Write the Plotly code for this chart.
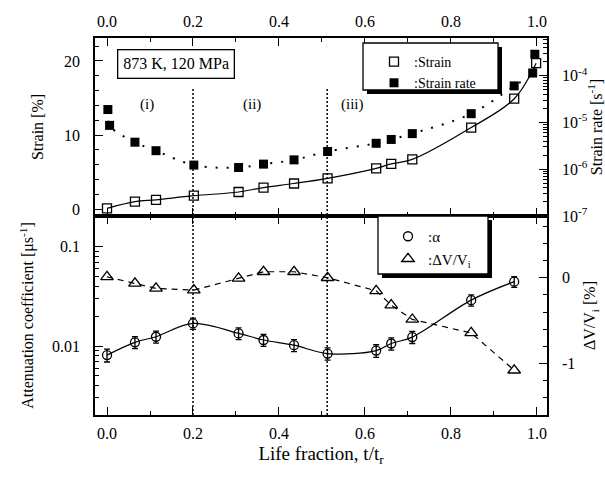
import plotly.graph_objects as go

# ---------------- data ----------------
life_strain = [0.0, 0.065, 0.114, 0.202, 0.306, 0.364, 0.435, 0.513, 0.626, 0.661, 0.71, 0.847, 0.947, 0.998]
strain = [0.1, 1.0, 1.25, 1.8, 2.3, 2.9, 3.45, 4.15, 5.5, 6.1, 6.7, 11.0, 14.9, 19.7]

life_rate = [0.002, 0.006, 0.065, 0.114, 0.202, 0.306, 0.364, 0.435, 0.513, 0.626, 0.661, 0.71, 0.847, 0.947, 0.99, 0.995]
strain_rate = [1.9e-5, 8.7e-6, 3.8e-6, 2.5e-6, 1.23e-6, 1.09e-6, 1.29e-6, 1.59e-6, 2.4e-6, 3.6e-6,
               4.35e-6, 5.8e-6, 1.55e-5, 6.1e-5, 1.15e-4, 2.9e-4]

life_alpha = [0.0, 0.065, 0.114, 0.2, 0.306, 0.364, 0.435, 0.513, 0.626, 0.661, 0.71, 0.847, 0.947]
alpha = [0.0081, 0.0109, 0.0124, 0.0169, 0.0134, 0.0115, 0.0102, 0.0084, 0.0090, 0.0106, 0.0123, 0.029, 0.0445]
alpha_err = [0.0012, 0.0015, 0.0017, 0.0022, 0.0018, 0.0016, 0.0014, 0.0012, 0.0013, 0.0015, 0.0017, 0.0038, 0.0055]

life_dv = [0.0, 0.065, 0.114, 0.202, 0.306, 0.364, 0.435, 0.513, 0.626, 0.661, 0.71, 0.847, 0.947]
dv_v = [0.01, -0.065, -0.124, -0.144, -0.007, 0.07, 0.07, 0.0, -0.152, -0.319, -0.486, -0.643, -1.078]

x_ticks = [0.0, 0.2, 0.4, 0.6, 0.8, 1.0]
x_ticklabels = ["0.0", "0.2", "0.4", "0.6", "0.8", "1.0"]
rate_ticks = [1e-7, 1e-6, 1e-5, 1e-4]
rate_ticklabels = ["10<sup>-7</sup>", "10<sup>-6</sup>", "10<sup>-5</sup>", "10<sup>-4</sup>"]
alpha_ticks = [0.01, 0.1]
alpha_ticklabels = ["0.01", "0.1"]
dv_ticks = [0, -1]
dv_ticklabels = ["0", "-1"]
stage_labels = ["(i)", "(ii)", "(iii)"]
stage_x = [0.093, 0.337, 0.57]
stage_boundaries = [0.2, 0.512]

FONT = "Liberation Serif"
W, H = 605, 478
L, R, T, B = 95, 58, 38, 63
PW, PH = W - L - R, H - T - B
split_px = 216
split = (H - B - split_px) / PH


def px2paper(px, py):
    return (px - L) / PW, (H - B - py) / PH


fig = go.Figure()

# ---------- top panel ----------
fig.add_trace(go.Scatter(x=life_strain, y=strain, xaxis="x2", yaxis="y", mode="lines",
                         line=dict(color="black", width=1.2, shape="spline", smoothing=1.0),
                         showlegend=False, hoverinfo="skip"))
fig.add_trace(go.Scatter(x=life_strain, y=strain, xaxis="x2", yaxis="y", mode="markers",
                         marker=dict(symbol="square-open", size=9, color="black", line=dict(width=1.3)),
                         name=":Strain", legend="legend"))
fig.add_trace(go.Scatter(x=life_rate, y=strain_rate, xaxis="x2", yaxis="y2", mode="lines",
                         line=dict(color="black", width=2, dash="2px,9px", shape="spline", smoothing=1.0),
                         showlegend=False, hoverinfo="skip"))
fig.add_trace(go.Scatter(x=life_rate, y=strain_rate, xaxis="x2", yaxis="y2", mode="markers",
                         marker=dict(symbol="square", size=9, color="black"),
                         name=":Strain rate", legend="legend"))

# ---------- bottom panel ----------
fig.add_trace(go.Scatter(x=life_alpha, y=alpha, xaxis="x", yaxis="y3", mode="lines",
                         line=dict(color="black", width=1.2, shape="spline", smoothing=1.0),
                         showlegend=False, hoverinfo="skip"))
fig.add_trace(go.Scatter(x=life_alpha, y=alpha, xaxis="x", yaxis="y3", mode="markers",
                         marker=dict(symbol="circle-open", size=9, color="black", line=dict(width=1.3)),
                         error_y=dict(type="data", array=alpha_err, color="black", thickness=1.3, width=3),
                         name=":α", legend="legend2"))
fig.add_trace(go.Scatter(x=life_dv, y=dv_v, xaxis="x", yaxis="y4", mode="lines",
                         line=dict(color="black", width=1.2, dash="6px,5px"),
                         showlegend=False, hoverinfo="skip"))
fig.add_trace(go.Scatter(x=life_dv, y=dv_v, xaxis="x", yaxis="y4", mode="markers",
                         marker=dict(symbol="triangle-up-open", size=11, color="black", line=dict(width=1.3)),
                         name=":ΔV/V<sub>i</sub>", legend="legend2"))

tickfont = dict(family=FONT, size=16, color="black")
titlefont = dict(family=FONT, size=16, color="black")
common_x = dict(range=[-0.0279, 1.0233], tickvals=x_ticks, ticktext=x_ticklabels,
                ticks="inside", ticklen=8, tickwidth=1.3, tickcolor="black",
                minor=dict(dtick=0.1, tick0=0, ticks="inside", ticklen=4, tickwidth=1.3, tickcolor="black"),
                showline=True, linecolor="black", linewidth=1.5, mirror="ticks", automargin=False,
                showgrid=False, zeroline=False, tickfont=tickfont, ticklabelstandoff=3)

minor_log = [k * 10.0 ** e for e in range(-8, 0) for k in range(2, 10)]

fig.update_layout(
    width=W, height=H,
    margin=dict(l=L, r=R, t=T, b=B, pad=0, autoexpand=False),
    paper_bgcolor="white", plot_bgcolor="white",
    font=dict(family=FONT, color="black"),
    xaxis=dict(**common_x, anchor="y3", side="bottom",
               title=dict(text="Life fraction, t/t<sub>r</sub>", font=dict(family=FONT, size=19, color="black"),
                          standoff=6)),
    xaxis2=dict(**common_x, anchor="y", side="top", matches="x"),
    yaxis=dict(domain=[split, 1], anchor="x2", range=[-0.94, 23.1], tickvals=[0, 10, 20],
               ticks="inside", ticklen=8, tickwidth=1.3, tickcolor="black", ticklabelstandoff=10,
               minor=dict(dtick=2, tick0=0, ticks="inside", ticklen=4, tickwidth=1.3, tickcolor="black"),
               showline=True, linecolor="black", linewidth=1.5, showgrid=False, zeroline=False,
               automargin=False,
               tickfont=tickfont, title=dict(text="Strain [%]", font=titlefont, standoff=16)),
    yaxis2=dict(type="log", overlaying="y", side="right", anchor="x2", range=[-7, -3.19],
                tickvals=rate_ticks, ticktext=rate_ticklabels, ticklabelstandoff=10,
                ticks="inside", ticklen=8, tickwidth=1.3, tickcolor="black",
                minor=dict(tickmode="array", tickvals=minor_log, ticks="inside", ticklen=4,
                           tickwidth=1, tickcolor="black"),
                showline=True, linecolor="black", linewidth=1.5, showgrid=False, zeroline=False,
                automargin=False,
                tickfont=tickfont, title=dict(text="Strain rate [s<sup>-1</sup>]", font=titlefont, standoff=10)),
    yaxis3=dict(type="log", domain=[0, split], anchor="x", range=[-2.695, -0.69],
                tickvals=alpha_ticks, ticktext=alpha_ticklabels, ticklabelstandoff=10,
                ticks="inside", ticklen=8, tickwidth=1.3, tickcolor="black",
                minor=dict(tickmode="array", tickvals=minor_log, ticks="inside", ticklen=4,
                           tickwidth=1, tickcolor="black"),
                showline=True, linecolor="black", linewidth=1.5, showgrid=False, zeroline=False,
                automargin=False, tickfont=tickfont,
                title=dict(text="Attenuation coefficient [μs<sup>-1</sup>]", font=titlefont, standoff=14)),
    yaxis4=dict(overlaying="y3", side="right", anchor="x", range=[-1.6, 0.72],
                tickvals=dv_ticks, ticktext=dv_ticklabels, ticklabelstandoff=10,
                ticks="inside", ticklen=8, tickwidth=1.3, tickcolor="black",
                minor=dict(dtick=0.2, tick0=0, ticks="inside", ticklen=4, tickwidth=1.3, tickcolor="black"),
                showline=True, linecolor="black", linewidth=1.5, showgrid=False, zeroline=False,
                automargin=False,
                tickfont=tickfont, title=dict(text="ΔV/V<sub>i</sub> [%]", font=titlefont, standoff=10)),
    legend=dict(x=px2paper(374, 0)[0], y=px2paper(0, 46)[1], xanchor="left", yanchor="top",
                bgcolor="rgba(0,0,0,0)", borderwidth=0, font=dict(family=FONT, size=14, color="black"),
                tracegroupgap=0, itemwidth=30),
    legend2=dict(x=px2paper(388, 0)[0], y=px2paper(0, 220)[1], xanchor="left", yanchor="top",
                 bgcolor="rgba(0,0,0,0)", borderwidth=0, font=dict(family=FONT, size=15, color="black"),
                 tracegroupgap=0, itemwidth=30),
)

shapes = []
# vertical stage boundaries
top_y = px2paper(0, 88)[1]
for xb in stage_boundaries:
    shapes.append(dict(type="line", xref="x", yref="paper", x0=xb, x1=xb, y0=0, y1=top_y,
                       line=dict(color="black", width=1.5, dash="2px,2px")))


def legend_box(x0, y0, x1, y1, off=4):
    a0, b0 = px2paper(x0 + off, y1 + off)
    a1, b1 = px2paper(x1 + off, y0 + off)
    c0, d0 = px2paper(x0, y1)
    c1, d1 = px2paper(x1, y0)
    return [dict(type="rect", xref="paper", yref="paper", x0=a0, x1=a1, y0=b0, y1=b1,
                 fillcolor="black", line=dict(width=0), layer="above"),
            dict(type="rect", xref="paper", yref="paper", x0=c0, x1=c1, y0=d0, y1=d1,
                 fillcolor="white", line=dict(color="black", width=1.3), layer="above")]


shapes += legend_box(363, 43, 498, 90)
shapes += legend_box(378, 216, 488, 274)
fig.update_layout(shapes=shapes)

annotations = []
for lab, xs in zip(stage_labels, stage_x):
    annotations.append(dict(text=lab, x=xs, y=14.1, xref="x2", yref="y", showarrow=False,
                            font=dict(family=FONT, size=15, color="black")))
bx, by = px2paper(176, 64)
annotations.append(dict(text="873 K, 120 MPa", x=bx, y=by, xref="paper", yref="paper", showarrow=False,
                        xanchor="center", yanchor="middle",
                        font=dict(family=FONT, size=16, color="black"), bordercolor="black",
                        borderwidth=1.3, borderpad=5, bgcolor="white"))
fig.update_layout(annotations=annotations)

fig.write_html("out.html")
